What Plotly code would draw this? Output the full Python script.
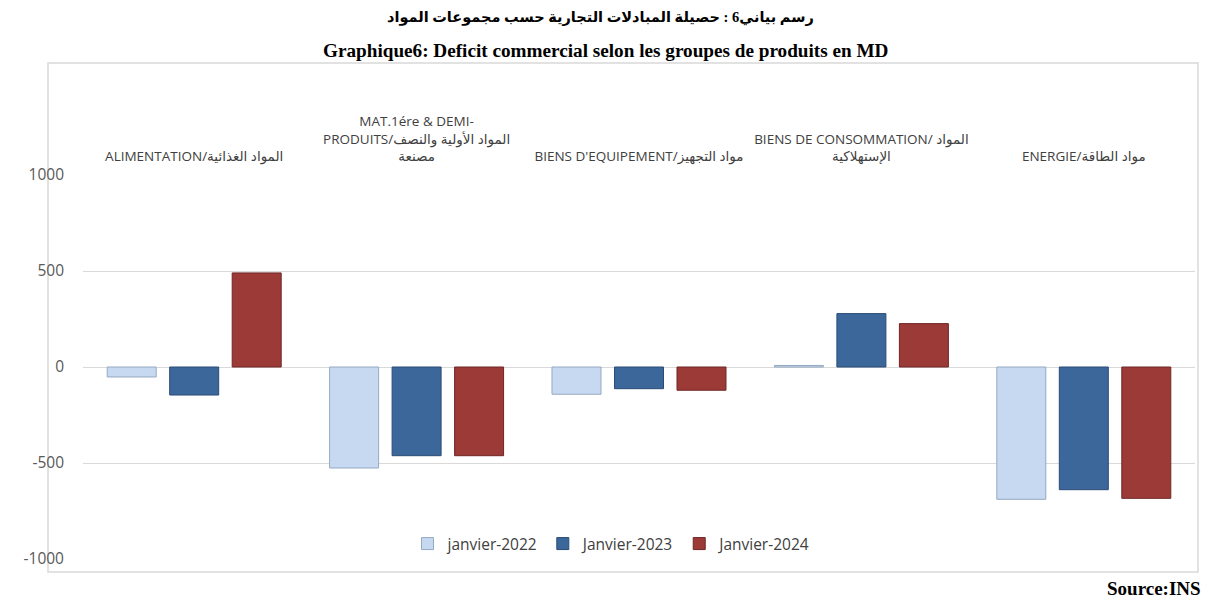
import plotly.graph_objects as go

categories = [
    "ALIMENTATION/المواد الغذائية",
    "MAT.1ére & DEMI-<br>PRODUITS/المواد الأولية والنصف<br>مصنعة",
    "BIENS D'EQUIPEMENT/مواد التجهيز",
    "BIENS DE CONSOMMATION/ المواد<br>الإستهلاكية",
    "ENERGIE/مواد الطاقة",
]
series_names = ["janvier-2022", "Janvier-2023", "Janvier-2024"]
v2022 = [-52, -526, -142, 8, -689]
v2023 = [-146, -462, -113, 278, -639]
v2024 = [490, -462, -121, 226, -684]
y_ticks = [-1000, -500, 0, 500, 1000]

colors = ["#C6D9F0", "#3B679B", "#9C3A38"]
line_colors = ["#95A9C3", "#2A4C74", "#6F2725"]

fig = go.Figure()
for name, vals, c, lc in zip(series_names, [v2022, v2023, v2024], colors, line_colors):
    fig.add_trace(go.Bar(
        x=categories, y=vals, name=name,
        marker=dict(color=c, line=dict(color=lc, width=1)),
    ))

OFF = 8  # page body margin
W, H = 1225 - OFF, 607 - OFF
# plot area in reference pixels: x 83..1195, y 175..559
L, T = 83 - OFF, 175 - OFF
R = W - (1195 - OFF)
B = H - (559 - OFF)
pw, ph = W - L - R, H - T - B

def px2x(px):
    return (px - OFF - L) / pw

def py2y(py):
    return (H - B - (py - OFF)) / ph

fig.update_layout(
    width=W, height=H,
    margin=dict(l=L, r=R, t=T, b=B),
    paper_bgcolor="white", plot_bgcolor="white",
    barmode="group", bargap=0.157, bargroupgap=0.216,
    showlegend=True,
    legend=dict(
        orientation="h", x=px2x(612), xanchor="center", y=py2y(544), yanchor="middle",
        font=dict(family="Open Sans, Noto Sans, sans-serif", size=15.5, color="#404040"),
        bgcolor="rgba(0,0,0,0)", itemwidth=30, traceorder="normal",
    ),
    xaxis=dict(
        side="top", showgrid=False, showline=False, ticks="",
        tickfont=dict(family="Open Sans, Noto Sans, DejaVu Sans, sans-serif", size=13.5, color="#404040"),
        tickangle=0, ticklabelstandoff=10,
    ),
    yaxis=dict(
        range=[-1000, 1000], tickvals=y_ticks, ticktext=[str(v) for v in y_ticks],
        showgrid=True, gridcolor="#D9D9D9", gridwidth=1,
        zeroline=True, zerolinecolor="#D9D9D9", zerolinewidth=1,
        showline=False, ticks="", ticklabelstandoff=18,
        tickfont=dict(family="Open Sans, Noto Sans, sans-serif", size=15.5, color="#595959"),
    ),
    font=dict(family="Liberation Serif, DejaVu Sans, serif"),
)

# outer chart frame
fig.add_shape(type="rect", xref="paper", yref="paper",
              x0=px2x(48), x1=px2x(1198), y0=py2y(572), y1=py2y(63),
              line=dict(color="#D9D9D9", width=1.5), fillcolor="rgba(0,0,0,0)", layer="below")

fig.add_annotation(xref="paper", yref="paper", x=px2x(600), y=py2y(18), xanchor="center", yanchor="middle",
                   text="<b>رسم بياني6 : حصيلة المبادلات التجارية حسب مجموعات المواد</b>", showarrow=False,
                   font=dict(family="Liberation Serif, DejaVu Sans, serif", size=14.5, color="#000000"))
fig.add_annotation(xref="paper", yref="paper", x=px2x(605), y=py2y(50), xanchor="center", yanchor="middle",
                   text="<b>Graphique6: Deficit commercial selon les groupes de produits en MD</b>", showarrow=False,
                   font=dict(family="Liberation Serif, serif", size=19.2, color="#000000"))
fig.add_annotation(xref="paper", yref="paper", x=px2x(1203), y=py2y(588), xanchor="right", yanchor="middle",
                   text="<b>Source:INS</b>", showarrow=False,
                   font=dict(family="Liberation Serif, serif", size=19, color="#000000"))

fig.write_html("out.html")
